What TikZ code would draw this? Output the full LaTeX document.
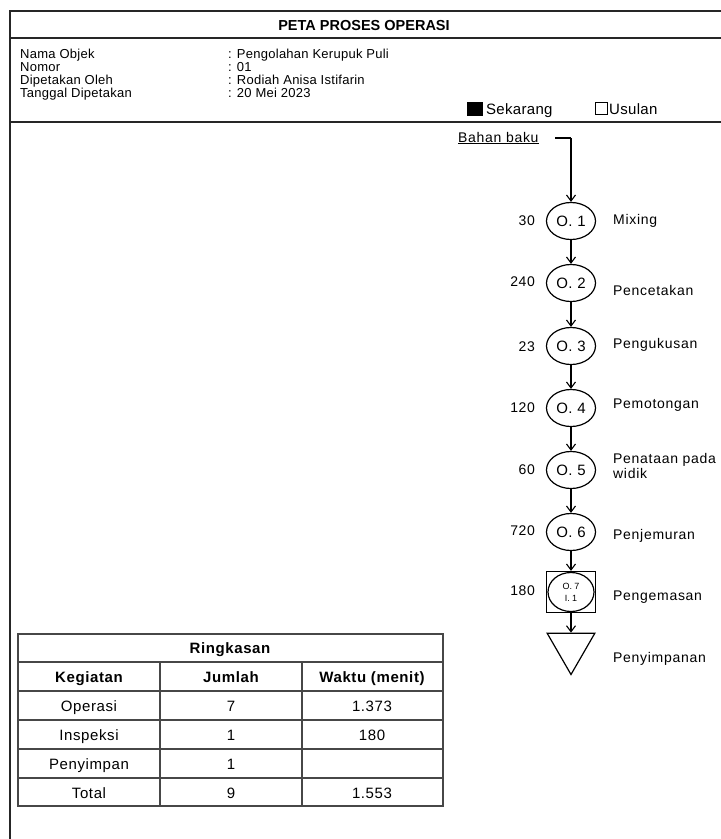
\documentclass[tikz,border=0pt]{standalone}
\usepackage{fontspec}
\setmainfont{Liberation Sans}
\usetikzlibrary{shapes.geometric,arrows.meta}
\begin{document}
\begin{tikzpicture}[x=1pt,y=-1pt,
  frameline/.style={line width=2.2pt,draw=black!85},
  gridline/.style={line width=1.6pt,draw=black!72},
  flow/.style={line width=1.1pt,-{Straight Barb[length=6pt,width=9pt]}},
  opc/.style={ellipse,draw,line width=1.2pt,minimum width=49pt,minimum height=37pt,inner sep=0pt,font=\fontsize{15}{15}\selectfont\addfontfeature{LetterSpace=3}},
  info/.style={anchor=base west,inner sep=0pt,font=\fontsize{13}{13}\selectfont\addfontfeature{LetterSpace=2}},
  num/.style={anchor=base east,inner sep=0pt,font=\fontsize{14}{14}\selectfont\addfontfeature{LetterSpace=4}},
  lbl/.style={anchor=west,inner sep=0pt,align=left,font=\fontsize{14}{12.5}\selectfont\addfontfeature{LetterSpace=5}},
  cellh/.style={anchor=base,inner sep=0pt,font=\fontsize{15}{15}\selectfont\bfseries\addfontfeature{LetterSpace=4}},
  cell/.style={anchor=base,inner sep=0pt,font=\fontsize{15}{15}\selectfont\addfontfeature{LetterSpace=4}},
  legend/.style={anchor=base west,inner sep=0pt,font=\fontsize{15}{15}\selectfont\addfontfeature{LetterSpace=2}},
]
\useasboundingbox (0,0) rectangle (721,839);
\clip (0,0) rectangle (721,839);
% frame
\draw[frameline] (10,11) rectangle (760,880);
\draw[frameline] (10,38) -- (760,38);
\draw[frameline] (10,122) -- (760,122);
\node[anchor=base,inner sep=0pt,font=\fontsize{14.5}{14.5}\selectfont\bfseries] (title) at (364,30) {PETA PROSES OPERASI};
% info
\node[info] (k1) at (20,58) {Nama Objek};
\node[info] (k2) at (20,71) {Nomor};
\node[info] (k3) at (20,84) {Dipetakan Oleh};
\node[info] (k4) at (20,97) {Tanggal Dipetakan};
\node[info] (v1) at (228,58) {: Pengolahan Kerupuk Puli};
\node[info] (v2) at (228,71) {: 01};
\node[info] (v3) at (228,84) {: Rodiah Anisa Istifarin};
\node[info] (v4) at (228,97) {: 20 Mei 2023};
\node[draw,fill=black,minimum width=15pt,minimum height=13pt,inner sep=0pt] (sqa) at (475,108.5) {};
\node[legend] (sek) at (486,114) {Sekarang};
\node[draw,line width=1.4pt,minimum size=12pt,inner sep=0pt] (sqb) at (601.5,108.5) {};
\node[legend] (usl) at (609,114) {Usulan};
% flow
\node[legend,font=\fontsize{14}{14}\selectfont\addfontfeature{LetterSpace=5}] (bahan) at (458,142) {\underline{Bahan baku}};
\coordinate (bstart) at (555,138);
\coordinate (bcorner) at (571,138);
\node[opc] (o1) at (571,221) {O. 1};
\node[opc] (o2) at (571,283) {O. 2};
\node[opc] (o3) at (571,346) {O. 3};
\node[opc] (o4) at (571,408) {O. 4};
\node[opc] (o5) at (571,470) {O. 5};
\node[opc] (o6) at (571,532) {O. 6};
\node[draw,line width=1.2pt,minimum width=49pt,minimum height=41pt,inner sep=0pt] (o7) at (571,592) {};
\node[ellipse,draw,line width=1.2pt,minimum width=46pt,minimum height=39pt,inner sep=0pt,align=center,font=\fontsize{9}{12}\selectfont] (o7c) at (571,592) {O. 7\\I. 1};
\node[regular polygon,regular polygon sides=3,shape border rotate=180,draw,line width=1.2pt,minimum size=55pt,inner sep=0pt] (tri) at (571,647) {};
\draw[line width=1.1pt] (bstart) -- (bcorner);
\draw[flow] (bcorner) -- (o1.north);
\draw[flow] (o1) -- (o2);
\draw[flow] (o2) -- (o3);
\draw[flow] (o3) -- (o4);
\draw[flow] (o4) -- (o5);
\draw[flow] (o5) -- (o6);
\draw[flow] (o6) -- (o7.north);
\draw[flow] (o7.south) -- (tri.north);
% numbers
\node[num] (n1) at (535,225) {30};
\node[num] (n2) at (535,286) {240};
\node[num] (n3) at (535,351) {23};
\node[num] (n4) at (535,412) {120};
\node[num] (n5) at (535,474) {60};
\node[num] (n6) at (535,535) {720};
\node[num] (n7) at (535,595) {180};
% labels
\node[lbl] (l1) at (613,221) {Mixing};
\node[lbl] (l2) at (613,290) {Pencetakan};
\node[lbl] (l3) at (613,345) {Pengukusan};
\node[lbl] (l4) at (613,405) {Pemotongan};
\node[lbl] (l5) at (613,466) {Penataan pada\\widik};
\node[lbl] (l6) at (613,536) {Penjemuran};
\node[lbl] (l7) at (613,597) {Pengemasan};
\node[lbl] (l8) at (613,659) {Penyimpanan};
% table
\draw[gridline] (18,634) rectangle (443,806);
\foreach \yy in {662,691,720,749,778} \draw[gridline] (18,\yy) -- (443,\yy);
\draw[gridline] (160,662) -- (160,806);
\draw[gridline] (302,662) -- (302,806);
\node[cellh] (th) at (230,653) {Ringkasan};
\node[cellh] (h1) at (89,682) {Kegiatan};
\node[cellh] (h2) at (231,682) {Jumlah};
\node[cellh] (h3) at (372,682) {Waktu (menit)};
\node[cell] (r1a) at (89,711) {Operasi};
\node[cell] (r1b) at (231,711) {7};
\node[cell] (r1c) at (372,711) {1.373};
\node[cell] (r2a) at (89,740) {Inspeksi};
\node[cell] (r2b) at (231,740) {1};
\node[cell] (r2c) at (372,740) {180};
\node[cell] (r3a) at (89,769) {Penyimpan};
\node[cell] (r3b) at (231,769) {1};
\node[cell] (r4a) at (89,798) {Total};
\node[cell] (r4b) at (231,798) {9};
\node[cell] (r4c) at (372,798) {1.553};
\end{tikzpicture}
\end{document}
